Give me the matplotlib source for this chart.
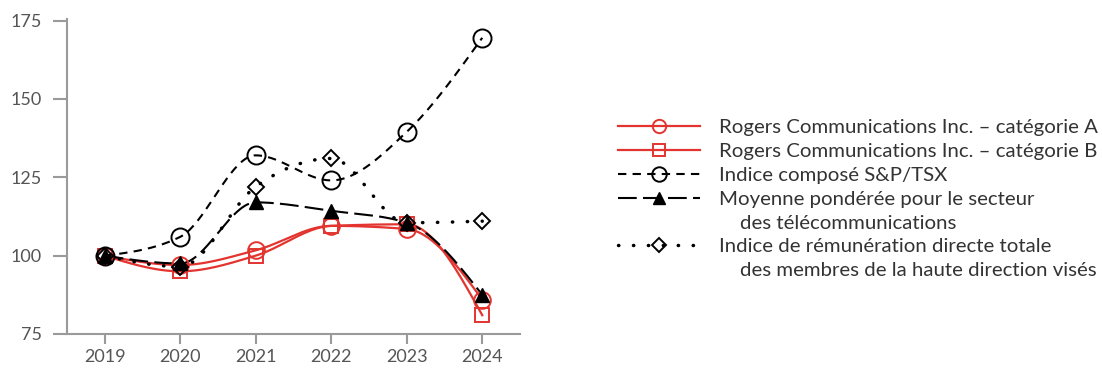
import numpy as np
import matplotlib
matplotlib.use("Agg")
import matplotlib.pyplot as plt
from matplotlib.lines import Line2D

plt.rcParams['font.family'] = ['Lato', 'DejaVu Sans']

years = [2019, 2020, 2021, 2022, 2023, 2024]
rogers_a = [100, 97, 101.7, 109.5, 108.5, 86]
rogers_b = [100, 95, 100, 109.5, 110, 81]
sp_tsx = [100, 106, 132, 124, 139.5, 169.5]
telecom = [100, 97.5, 117, 114.3, 110.5, 87.5]
exec_comp = [100, 96.5, 122, 131, 110.5, 111]

labels = [
    "Rogers Communications Inc. \u2013 cat\u00e9gorie A",
    "Rogers Communications Inc. \u2013 cat\u00e9gorie B",
    "Indice compos\u00e9 S&P/TSX",
    "Moyenne pond\u00e9r\u00e9e pour le secteur\n    des t\u00e9l\u00e9communications",
    "Indice de r\u00e9mun\u00e9ration directe totale\n    des membres de la haute direction vis\u00e9s",
]
yticks = [75, 100, 125, 150, 175]

RED = "#e3342f"
GREY = "#9a9a9a"
TXT = "#555555"


def monotone(x, y, n=40):
    x = np.asarray(x, float)
    y = np.asarray(y, float)
    h = np.diff(x)
    s = np.diff(y) / h
    t = np.zeros_like(y)
    for i in range(1, len(y) - 1):
        s0, s1 = s[i - 1], s[i]
        p = (s0 * h[i] + s1 * h[i - 1]) / (h[i - 1] + h[i])
        t[i] = (np.sign(s0) + np.sign(s1)) * min(abs(s0), abs(s1), 0.5 * abs(p))
    t[0] = (3 * s[0] - t[1]) / 2
    t[-1] = (3 * s[-1] - t[-2]) / 2
    xs, ys = [], []
    for i in range(len(x) - 1):
        u = np.linspace(0, 1, n)
        h00 = 2 * u**3 - 3 * u**2 + 1
        h10 = u**3 - 2 * u**2 + u
        h01 = -2 * u**3 + 3 * u**2
        h11 = u**3 - u**2
        xs.append(x[i] + u * h[i])
        ys.append(h00 * y[i] + h10 * h[i] * t[i] + h01 * y[i + 1] + h11 * h[i] * t[i + 1])
    return np.concatenate(xs), np.concatenate(ys)


fig = plt.figure(figsize=(11.02, 3.69), dpi=100)
ax = fig.add_axes([67 / 1102, 1 - 334 / 369, (520 - 67) / 1102, (334 - 19) / 369])

series = [
    (rogers_a, dict(color=RED, ls='-', lw=1.6), dict(marker='o', ms=12, mfc='none', mec=RED, mew=1.4)),
    (rogers_b, dict(color=RED, ls='-', lw=1.6), dict(marker='s', ms=10, mfc='none', mec=RED, mew=1.4)),
    (sp_tsx, dict(color='black', ls=(0, (4, 3)), lw=1.5), dict(marker='o', ms=13, mfc='none', mec='black', mew=1.4)),
    (telecom, dict(color='black', ls=(0, (9, 3)), lw=1.5), dict(marker='^', ms=10, mfc='black', mec='black', mew=1.0)),
    (exec_comp, dict(color='black', ls=(0, (0.1, 4.2)), lw=2.5, dash_capstyle='round'), dict(marker='D', ms=8.5, mfc='none', mec='black', mew=1.4)),
]

handles = []
leg_labels = []
for (vals, lstyle, mstyle), lab in zip(series, labels):
    xs, ys = monotone(years, vals)
    ax.plot(xs, ys, zorder=2, **lstyle)
    ax.plot(years, vals, ls='none', zorder=3, **mstyle)
    hs = dict(mstyle)
    hs['ms'] = hs['ms'] * 0.8
    lines = lab.split("\n")
    handles.append(Line2D([], [], **lstyle, **hs))
    leg_labels.append(lines[0])
    for extra in lines[1:]:
        handles.append(Line2D([], [], ls='none'))
        leg_labels.append(extra)

ax.set_xlim(2018.5, 2024.5)
ax.set_ylim(75, 175.5)
ax.set_xticks(years)
ax.set_xticklabels([str(y) for y in years])
ax.set_yticks(yticks)
for sp in ['top', 'right']:
    ax.spines[sp].set_visible(False)
for sp in ['left', 'bottom']:
    ax.spines[sp].set_color(GREY)
    ax.spines[sp].set_linewidth(1.5)
ax.tick_params(axis='y', length=10, width=1.5, color=GREY, labelcolor=TXT, labelsize=13, pad=8)
ax.tick_params(axis='x', length=7, width=1.5, color=GREY, labelcolor=TXT, labelsize=13, pad=4)

leg = fig.legend(handles, leg_labels, loc='upper left', bbox_to_anchor=(618 / 1102, 1 - 119 / 369),
                 frameon=False, fontsize=14.7, handlelength=4.0, handletextpad=0.95,
                 labelspacing=0.32, borderpad=0, borderaxespad=0, labelcolor='#333333')

fig.savefig("out.png", dpi=100)
